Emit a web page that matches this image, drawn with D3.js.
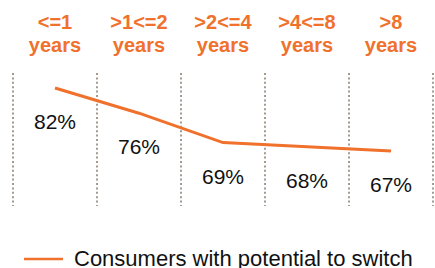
<!DOCTYPE html>
<html>
<head>
<meta charset="utf-8">
<script src="https://cdn.jsdelivr.net/npm/d3@7"></script>
<style>
  body { margin: 0; background: #fff; }
  svg { display: block; font-family: "Helvetica Neue", Helvetica, Arial, "Liberation Sans", sans-serif; }
</style>
</head>
<body>
<svg id="chart" width="435" height="268"></svg>
<script>
// data
const categories = ["<=1 years", ">1<=2 years", ">2<=4 years", ">4<=8 years", ">8 years"];
const headerLine1 = ["<=1", ">1<=2", ">2<=4", ">4<=8", ">8"];
const headerLine2 = ["years", "years", "years", "years", "years"];
const switchShare = [82, 76, 69, 68, 67];
const seriesName = "Consumers with potential to switch";

const orange = "#f0712c";
const svg = d3.select("#chart");

const x = d3.scaleBand().domain(categories).range([13, 433]).padding(0);
const y = d3.scaleLinear().domain([67, 82]).range([151, 88]);

// dotted column separators
const edges = categories.map(c => x(c)).concat([x(categories[categories.length - 1]) + x.bandwidth()]);
svg.append("g")
    .selectAll("line")
    .data(edges)
    .enter().append("line")
    .attr("x1", d => d).attr("x2", d => d)
    .attr("y1", 73).attr("y2", 206)
    .attr("stroke", "#a39a92")
    .attr("stroke-width", 2)
    .attr("stroke-dasharray", "2,2.4");

// column headers
const header = svg.append("g")
    .attr("fill", orange)
    .attr("font-weight", "bold")
    .attr("font-size", "20px")
    .attr("text-anchor", "middle");
header.selectAll("text.l1")
    .data(headerLine1)
    .enter().append("text")
    .attr("class", "l1")
    .attr("x", (d, i) => x(categories[i]) + x.bandwidth() / 2)
    .attr("y", 29)
    .text(d => d);
header.selectAll("text.l2")
    .data(headerLine2)
    .enter().append("text")
    .attr("class", "l2")
    .attr("x", (d, i) => x(categories[i]) + x.bandwidth() / 2)
    .attr("y", 52)
    .text(d => d);

// line
const line = d3.line()
    .x((d, i) => x(categories[i]) + x.bandwidth() / 2)
    .y(d => y(d));
svg.append("path")
    .datum(switchShare)
    .attr("fill", "none")
    .attr("stroke", orange)
    .attr("stroke-width", 3)
    .attr("d", line);

// value labels
svg.append("g")
    .attr("font-size", "21px")
    .attr("fill", "#111")
    .attr("text-anchor", "middle")
    .selectAll("text")
    .data(switchShare)
    .enter().append("text")
    .attr("x", (d, i) => x(categories[i]) + x.bandwidth() / 2)
    .attr("y", d => y(d) + 41)
    .text(d => d + "%");

// legend
const legend = svg.append("g");
legend.append("line")
    .attr("x1", 24).attr("x2", 63)
    .attr("y1", 259).attr("y2", 259)
    .attr("stroke", orange)
    .attr("stroke-width", 2.5);
legend.append("text")
    .attr("x", 74)
    .attr("y", 266)
    .attr("font-size", "22px")
    .attr("fill", "#111")
    .text(seriesName);
</script>
</body>
</html>
